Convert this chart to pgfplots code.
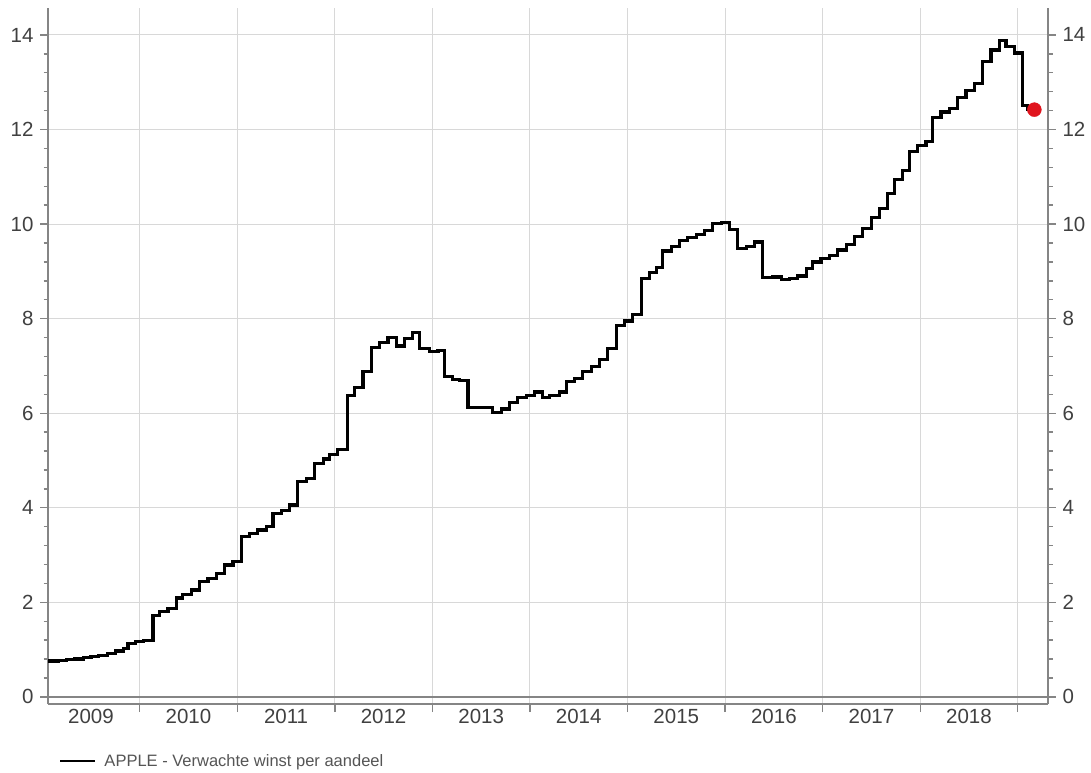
\documentclass[border=0pt]{standalone}
\usepackage{fontspec}
\setmainfont{Liberation Sans}
\usepackage{pgfplots}
\pgfplotsset{compat=1.18}
\usepackage{pgfplotstable}
\definecolor{gridgray}{HTML}{D8D8D8}
\definecolor{axisgray}{HTML}{858585}
\definecolor{labgray}{HTML}{404040}
\definecolor{leggray}{HTML}{555555}
\definecolor{dotred}{HTML}{E0141E}

\pgfplotstableread{
x y
2009.06 0.76
2009.17 0.77
2009.25 0.79
2009.33 0.80
2009.42 0.83
2009.50 0.85
2009.58 0.88
2009.67 0.92
2009.75 0.97
2009.83 1.03
2009.88 1.13
2009.96 1.18
2010.04 1.20
2010.137 1.73
2010.205 1.80
2010.29 1.87
2010.376 2.09
2010.44 2.16
2010.53 2.26
2010.615 2.44
2010.70 2.51
2010.786 2.61
2010.87 2.79
2010.956 2.86
2011.04 3.39
2011.127 3.46
2011.21 3.53
2011.30 3.60
2011.366 3.88
2011.45 3.95
2011.537 4.06
2011.62 4.55
2011.708 4.62
2011.79 4.94
2011.88 5.03
2011.947 5.13
2012.03 5.23
2012.13 6.38
2012.203 6.55
2012.288 6.88
2012.374 7.39
2012.459 7.49
2012.544 7.60
2012.630 7.42
2012.715 7.58
2012.800 7.71
2012.869 7.37
2012.971 7.30
2013.057 7.32
2013.125 6.77
2013.210 6.72
2013.279 6.70
2013.364 6.12
2013.620 6.02
2013.706 6.09
2013.791 6.22
2013.876 6.33
2013.962 6.38
2014.047 6.45
2014.132 6.33
2014.201 6.38
2014.303 6.45
2014.372 6.67
2014.457 6.74
2014.542 6.88
2014.628 6.98
2014.713 7.14
2014.798 7.37
2014.884 7.85
2014.969 7.95
2015.055 8.09
2015.140 8.85
2015.225 8.97
2015.294 9.08
2015.362 9.43
2015.447 9.52
2015.533 9.65
2015.618 9.71
2015.704 9.78
2015.789 9.87
2015.874 10.01
2015.960 10.03
2016.045 9.88
2016.130 9.48
2016.216 9.53
2016.301 9.62
2016.387 8.87
2016.489 8.88
2016.575 8.83
2016.660 8.85
2016.745 8.90
2016.831 9.06
2016.899 9.20
2016.984 9.27
2017.070 9.34
2017.155 9.45
2017.241 9.57
2017.326 9.73
2017.411 9.91
2017.497 10.14
2017.582 10.33
2017.667 10.65
2017.736 10.95
2017.821 11.13
2017.889 11.54
2017.975 11.67
2018.060 11.74
2018.128 12.25
2018.214 12.37
2018.299 12.44
2018.384 12.68
2018.470 12.83
2018.555 12.97
2018.641 13.43
2018.726 13.68
2018.811 13.88
2018.880 13.75
2018.965 13.62
2019.050 12.50
2019.10 12.42
2019.17 12.42
}\epsdata

\pgfplotstableread{
x y
2019.17 12.42
}\lastpoint

\begin{document}
\begin{tikzpicture}
\path[use as bounding box] (-48pt,-68pt) rectangle (1043pt,704pt);
\pgfplotsset{
  common/.style={
    scale only axis,
    width=1000pt, height=696pt,
    xmin=2009.06, xmax=2019.31,
    ymin=-0.15, ymax=14.57,
    ytick={0,2,...,14},
    minor y tick num=4,
    tick align=outside,
    major tick length=8pt,
    minor tick length=4.5pt,
    every tick/.style={axisgray, line width=1.4pt},
    axis line style={axisgray, line width=1.5pt},
    tick label style={font=\fontsize{20.5}{24}\selectfont, text=labgray},
    /pgf/number format/assume math mode=true,
  }
}
\begin{axis}[
  common,
  axis x line*=bottom,
  axis y line*=left,
  xtick={2010,2011,...,2019},
  xticklabels={},
  minor x tick num=3,
  extra x ticks={2009.5,2010.5,...,2018.5},
  extra x tick labels={2009,2010,2011,2012,2013,2014,2015,2016,2017,2018},
  extra x tick style={grid=none, major tick length=0pt, xticklabel style={yshift=-2pt}},
  extra y ticks={0},
  extra y tick labels={},
  extra y tick style={major grid style={axisgray, line width=1.5pt}},
  grid=major,
  major grid style={gridgray, line width=1pt},
  yticklabel style={xshift=-3pt},
  legend style={at={(0.008,-0.082)}, anchor=west, draw=none, fill=none,
    font=\fontsize{16.5}{19}\selectfont, text=leggray},
  legend image code/.code={\draw[black, line width=2.6pt, line cap=butt] (0pt,0pt) -- (35pt,0pt);\path[draw=none, fill=none] (35pt,-1pt) rectangle (42pt,1pt);},
]
\addplot[const plot, black, line width=3.2pt] table[x=x, y=y] {\epsdata};
\addlegendentry{APPLE - Verwachte winst per aandeel}
\addplot[only marks, mark=*, mark size=7pt, color=dotred, forget plot] table[x=x, y=y] {\lastpoint};
\end{axis}
\begin{axis}[
  common,
  axis x line=none,
  axis y line*=right,
  yticklabel pos=right,
  yticklabel style={xshift=3pt},
]
\end{axis}
\end{tikzpicture}
\end{document}
